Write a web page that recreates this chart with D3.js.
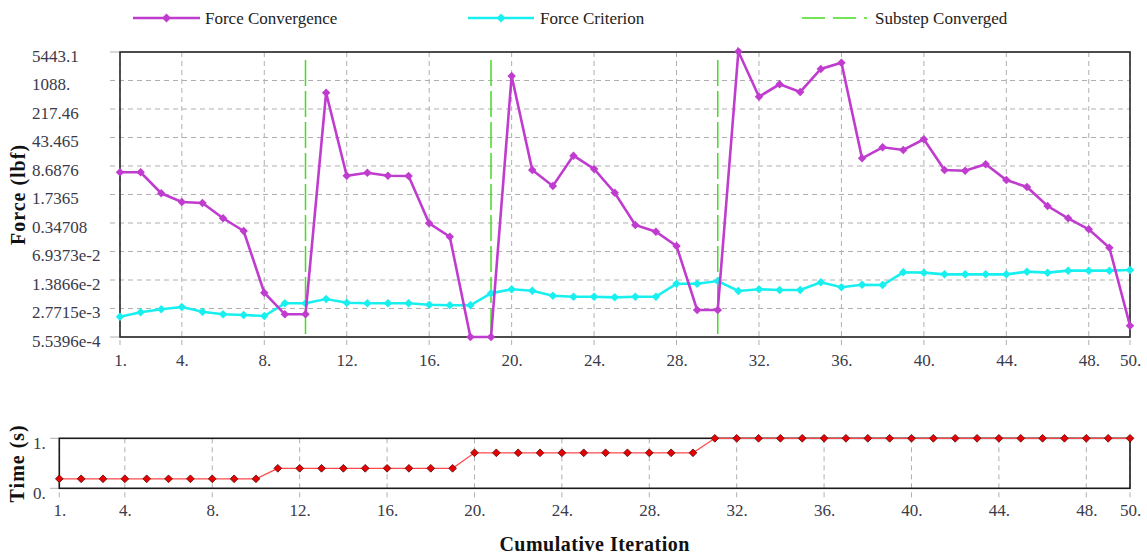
<!DOCTYPE html>
<html><head><meta charset="utf-8">
<script src="https://cdn.jsdelivr.net/npm/d3@7"></script>
<style>body{margin:0;background:#fff}svg{display:block}</style>
</head><body>
<svg id="c" width="1147" height="558"></svg>
<script>
const iterations = [1,2,3,4,5,6,7,8,9,10,11,12,13,14,15,16,17,18,19,20,21,22,23,24,25,26,27,28,29,30,31,32,33,34,35,36,37,38,39,40,41,42,43,44,45,46,47,48,49,50];
const forceConvergence = [6.09,6.09,1.86,1.14,1.07,0.453,0.221,0.00677,0.0020,0.0020,
  546,5.02,5.95,5.02,4.94,0.341,0.160,5.5396e-4,5.5396e-4,
  1403,6.93,2.81,15.6,7.33,1.92,0.310,0.212,0.0947,0.00255,0.00255,
  5600,436,879,569,2084,2977,13.4,25.0,21.5,39.3,6.93,6.66,9.57,3.94,2.65,0.907,0.453,0.243,0.0860,0.00105];
const forceCriterion = [0.00174,0.00224,0.00265,0.00302,0.00231,0.00200,0.00192,0.00181,0.00372,0.00372,
  0.00474,0.00385,0.00372,0.00372,0.00372,0.00343,0.00332,0.00332,0.00654,
  0.00820,0.00758,0.00571,0.00540,0.00540,0.00521,0.00540,0.00540,0.01125,0.01125,0.0131,
  0.00745,0.00820,0.00788,0.00788,0.01217,0.00918,0.01064,0.01045,0.0214,0.0210,
  0.0191,0.0191,0.0191,0.0191,0.0222,0.0210,0.0235,0.0235,0.0235,0.0244];
const timeValues = [0.19,0.19,0.19,0.19,0.19,0.19,0.19,0.19,0.19,0.19,
  0.4,0.4,0.4,0.4,0.4,0.4,0.4,0.4,0.4,
  0.71,0.71,0.71,0.71,0.71,0.71,0.71,0.71,0.71,0.71,0.71,
  1,1,1,1,1,1,1,1,1,1,1,1,1,1,1,1,1,1,1,1];
const substepConverged = [10,19,30];
const forceTickValues = [5.5396e-4,2.7715e-3,1.3866e-2,6.9373e-2,0.34708,1.7365,8.6876,43.465,217.46,1088,5443.1];
const forceTickLabels = ["5.5396e-4","2.7715e-3","1.3866e-2","6.9373e-2","0.34708","1.7365","8.6876","43.465","217.46","1088.","5443.1"];
const iterTickValues = [1,4,8,12,16,20,24,28,32,36,40,44,48,50];
const timeTickValues = [0,1];
const timeTickLabels = ["0.","1."];
const seriesNames = ["Force Convergence","Force Criterion","Substep Converged"];

const svg = d3.select("#c");
const FONT = "'Liberation Serif','Times New Roman',serif";
const TXT = "#3a3a48";
const MAG = "#c03ccf", CYA = "#18f0f0", GRN = "#44dd22";
const marker = d3.symbol(d3.symbolSquare, 36);

// ---------- top chart ----------
const xT = d3.scaleLinear().domain([1,50]).range([120,1130]);
const yT = d3.scaleLog().domain([5.5396e-4,5443.1]).range([337,52]);

const gT = svg.append("g");
gT.selectAll("line.hg").data(forceTickValues).join("line")
  .attr("x1",110).attr("x2",xT(50)).attr("y1",d=>yT(d)).attr("y2",d=>yT(d))
  .attr("stroke","#b0b0b0").attr("stroke-width",1).attr("stroke-dasharray",(d,i)=> (i===0||i===forceTickValues.length-1)?null:"5,4");
gT.selectAll("line.vg").data(iterTickValues).join("line")
  .attr("x1",d=>xT(d)).attr("x2",d=>xT(d)).attr("y1",yT(5443.1)).attr("y2",347)
  .attr("stroke","#b0b0b0").attr("stroke-width",1).attr("stroke-dasharray","5,4");
gT.append("rect").attr("x",xT(1)).attr("y",yT(5443.1)).attr("width",xT(50)-xT(1)).attr("height",yT(5.5396e-4)-yT(5443.1))
  .attr("fill","none").attr("stroke","#2a2a2a").attr("stroke-width",1.6);

const yAx = d3.axisLeft(yT).tickValues(forceTickValues).tickFormat((d,i)=>forceTickLabels[i]).tickSize(0);
const yAxG = gT.append("g").attr("transform",`translate(${xT(1)},0)`).call(yAx);
yAxG.select(".domain").remove();
yAxG.selectAll("text").attr("x",32-xT(1)).attr("dy","0.55em").attr("text-anchor","start")
  .attr("font-family",FONT).attr("font-size",17).attr("fill",TXT);

const xAx = d3.axisBottom(xT).tickValues(iterTickValues).tickFormat(d=>d+".").tickSize(0);
const xAxG = gT.append("g").attr("transform",`translate(0,${yT(5.5396e-4)})`).call(xAx);
xAxG.select(".domain").remove();
xAxG.selectAll("text").attr("y",19).attr("dy","0.6em").attr("font-family",FONT).attr("font-size",17).attr("fill",TXT);

gT.selectAll("line.ss").data(substepConverged).join("line")
  .attr("x1",d=>xT(d)).attr("x2",d=>xT(d)).attr("y1",60).attr("y2",yT(5.5396e-4))
  .attr("stroke",GRN).attr("stroke-width",1.5).attr("stroke-dasharray","26,5");

const lineT = (vals)=> d3.line().x((d,i)=>xT(iterations[i])).y(d=>yT(d))(vals);
gT.append("path").attr("d",lineT(forceCriterion)).attr("fill","none").attr("stroke",CYA).attr("stroke-width",2.6);
gT.selectAll("path.mc").data(forceCriterion).join("path")
  .attr("transform",(d,i)=>`translate(${xT(iterations[i])},${yT(d)}) rotate(45)`)
  .attr("d",marker).attr("fill",CYA);
gT.append("path").attr("d",lineT(forceConvergence)).attr("fill","none").attr("stroke",MAG).attr("stroke-width",2.6);
gT.selectAll("path.mf").data(forceConvergence).join("path")
  .attr("transform",(d,i)=>`translate(${xT(iterations[i])},${yT(d)}) rotate(45)`)
  .attr("d",marker).attr("fill",MAG);

svg.append("text").attr("transform",`translate(25,${(yT(5443.1)+yT(5.5396e-4))/2}) rotate(-90)`)
  .attr("text-anchor","middle").attr("font-family",FONT).attr("font-weight","bold").attr("font-size",20)
  .attr("letter-spacing",1).attr("fill","#111").text("Force (lbf)");

const leg = svg.append("g");
const legendItems = [
  {name:seriesNames[0], x1:133, x2:200, tx:205, color:MAG, marker:true, dash:null},
  {name:seriesNames[1], x1:468, x2:534, tx:540, color:CYA, marker:true, dash:null},
  {name:seriesNames[2], x1:802, x2:867, tx:875, color:GRN, marker:false, dash:"23,8"}
];
legendItems.forEach(it=>{
  leg.append("line").attr("x1",it.x1).attr("x2",it.x2).attr("y1",18).attr("y2",18)
    .attr("stroke",it.color).attr("stroke-width",it.marker?2.6:1.5).attr("stroke-dasharray",it.dash);
  if(it.marker) leg.append("path").attr("transform",`translate(${(it.x1+it.x2)/2},18) rotate(45)`)
    .attr("d",d3.symbol(d3.symbolSquare,40)).attr("fill",it.color);
  leg.append("text").attr("x",it.tx).attr("y",24).attr("font-family",FONT).attr("font-size",17)
    .attr("fill","#222").text(it.name);
});

// ---------- bottom chart ----------
const xB = d3.scaleLinear().domain([1,50]).range([59.3,1130]);
const yB = d3.scaleLinear().domain([0,1]).range([488.3,438.3]);
const gB = svg.append("g");
gB.selectAll("line.vg").data(iterTickValues).join("line")
  .attr("x1",d=>xB(d)).attr("x2",d=>xB(d)).attr("y1",yB(1)).attr("y2",498)
  .attr("stroke","#b0b0b0").attr("stroke-width",1).attr("stroke-dasharray","5,4");
gB.selectAll("line.ht").data(timeTickValues).join("line")
  .attr("x1",50).attr("x2",xB(1)).attr("y1",d=>yB(d)).attr("y2",d=>yB(d))
  .attr("stroke","#b0b0b0").attr("stroke-width",1);
gB.append("rect").attr("x",xB(1)).attr("y",yB(1)).attr("width",xB(50)-xB(1)).attr("height",yB(0)-yB(1))
  .attr("fill","none").attr("stroke","#1a1a1a").attr("stroke-width",1.6);

const yAxB = d3.axisLeft(yB).tickValues(timeTickValues).tickFormat((d,i)=>timeTickLabels[i]).tickSize(0);
const yAxBG = gB.append("g").attr("transform",`translate(${xB(1)},0)`).call(yAxB);
yAxBG.select(".domain").remove();
yAxBG.selectAll("text").attr("x",33-xB(1)).attr("dy","0.6em").attr("text-anchor","start")
  .attr("font-family",FONT).attr("font-size",17).attr("fill",TXT);

const xAxB = d3.axisBottom(xB).tickValues(iterTickValues).tickFormat(d=>d+".").tickSize(0);
const xAxBG = gB.append("g").attr("transform",`translate(0,${yB(0)})`).call(xAxB);
xAxBG.select(".domain").remove();
xAxBG.selectAll("text").attr("y",18).attr("dy","0.6em").attr("font-family",FONT).attr("font-size",17).attr("fill",TXT);

const lineB = d3.line().x((d,i)=>xB(iterations[i])).y(d=>yB(d));
gB.append("path").attr("d",lineB(timeValues)).attr("fill","none").attr("stroke","#ff4a4a").attr("stroke-width",1.3);
gB.selectAll("path.mt").data(timeValues).join("path")
  .attr("transform",(d,i)=>`translate(${xB(iterations[i])},${yB(d)}) rotate(45)`)
  .attr("d",d3.symbol(d3.symbolSquare,30)).attr("fill","#e80000").attr("stroke","#5a1010").attr("stroke-width",0.8);

svg.append("text").attr("transform",`translate(24,${(yB(0)+yB(1))/2}) rotate(-90)`)
  .attr("text-anchor","middle").attr("font-family",FONT).attr("font-weight","bold").attr("font-size",20)
  .attr("letter-spacing",1).attr("fill","#111").text("Time (s)");

svg.append("text").attr("x",(xB(1)+xB(50))/2).attr("y",551).attr("text-anchor","middle")
  .attr("font-family",FONT).attr("font-weight","bold").attr("font-size",20)
  .attr("letter-spacing",0.5).attr("fill","#111").text("Cumulative Iteration");
</script>
</body></html>
